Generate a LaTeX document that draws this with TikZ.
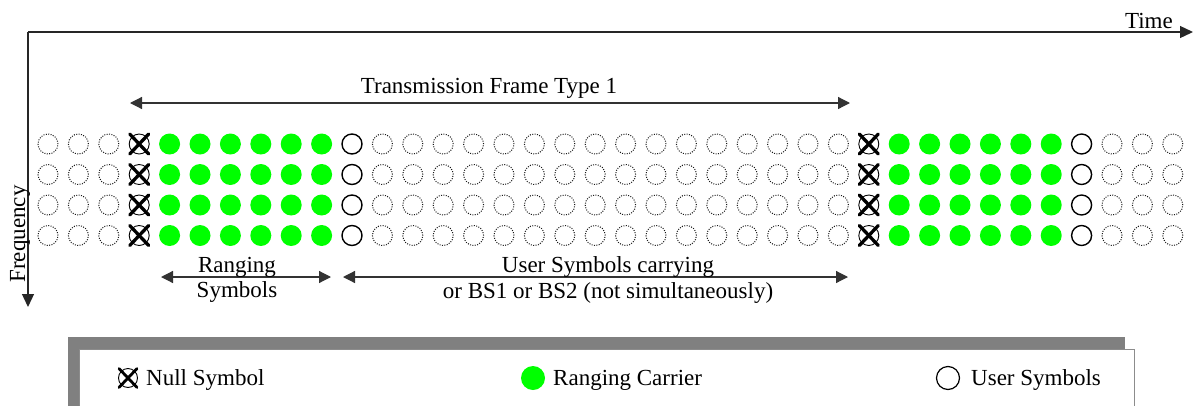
\documentclass[tikz,border=0pt]{standalone}
\usepackage{fontspec}
\setmainfont{Liberation Serif}
\usetikzlibrary{arrows.meta,calc}
\definecolor{rgreen}{RGB}{0,255,0}
\begin{document}
\begin{tikzpicture}[x=1pt,y=-1pt,
  txt/.style={inner sep=0pt, font=\fontsize{23}{25.5}\selectfont},
  sym/.style={circle, minimum size=20pt, inner sep=0pt},
  dotsym/.style={sym, draw=black!90, dash pattern=on 1pt off 1.4pt, line width=1pt},
  usersym/.style={sym, draw=black, line width=1.4pt},
  rangesym/.style={sym, fill=rgreen, minimum size=21pt},
  nullsym/.style={sym, draw=black, line width=0.9pt},
  xline/.style={line width=3.3pt, line cap=round},
  axis/.style={draw=black!85, line width=1.3pt},
  dimarrow/.style={draw=black!80, line width=1.2pt, {Triangle[length=12pt,width=12pt]}-{Triangle[length=12pt,width=12pt]}},
]
\useasboundingbox (0,0) rectangle (1195,405);

% axes
\coordinate (origin) at (28,32);
\coordinate (timeend) at (1193,32);
\coordinate (freqend) at (28,307);
\draw[axis, -{Triangle[length=13pt,width=12pt]}] (origin) -- (timeend);
\draw[axis, -{Triangle[length=13pt,width=12pt]}] (origin) -- (freqend);
\node[txt, anchor=base east] (time) at (1173,28) {Time};
\node[txt, rotate=90, anchor=base] (freq) at (25,234) {Frequency};

% symbol grid
\foreach \r in {0,...,3} {
  \foreach \i in {0,1,2} {
    \node[dotsym] (s-\r-\i) at ({48+30.4*\i},{144+30.5*\r}) {};
  }
  \foreach \i in {11,...,26} {
    \node[dotsym] (s-\r-\i) at ({48+30.4*\i},{144+30.5*\r}) {};
  }
  \foreach \i in {35,36,37} {
    \node[dotsym] (s-\r-\i) at ({48+30.4*\i},{144+30.5*\r}) {};
  }
  \foreach \i in {4,...,9} {
    \node[rangesym] (s-\r-\i) at ({48+30.4*\i},{144+30.5*\r}) {};
  }
  \foreach \i in {28,...,33} {
    \node[rangesym] (s-\r-\i) at ({48+30.4*\i},{144+30.5*\r}) {};
  }
  \foreach \i in {10,34} {
    \node[usersym] (s-\r-\i) at ({48+30.4*\i},{144+30.5*\r}) {};
  }
  \foreach \i in {3,27} {
    \node[nullsym] (s-\r-\i) at ({48+30.4*\i},{144+30.5*\r}) {};
    \draw[xline] ([shift={(-9.5,-10)}]s-\r-\i.center) -- ([shift={(9.5,10)}]s-\r-\i.center);
    \draw[xline] ([shift={(-9.5,10)}]s-\r-\i.center) -- ([shift={(9.5,-10)}]s-\r-\i.center);
  }
}

% dimension arrows
\coordinate (tfL) at (130,103);
\coordinate (tfR) at (850,103);
\draw[dimarrow] (tfL) -- (tfR);
\node[txt, anchor=base] (tftext) at (489,93) {Transmission Frame Type 1};

\coordinate (rgL) at (161,277);
\coordinate (rgR) at (331,277);
\draw[dimarrow] (rgL) -- (rgR);
\node[txt, align=center] (rgtext) at (237,280) {Ranging\\Symbols};

\coordinate (usL) at (343,277);
\coordinate (usR) at (848,277);
\draw[dimarrow] (usL) -- (usR);
\node[txt, align=center] (ustext) at (608,280) {User Symbols carrying\\or BS1 or BS2 (not simultaneously)};

% legend
\fill[black!50] (68,337) rectangle (1125,420);
\draw[fill=white, draw=black!45, line width=0.8pt] (79,349) rectangle (1134,420);

\node[nullsym, minimum size=19pt] (lnull) at (128,378) {};
\draw[xline, line width=2.8pt] ([shift={(-9,-9.5)}]lnull.center) -- ([shift={(9,9.5)}]lnull.center);
\draw[xline, line width=2.8pt] ([shift={(-9,9.5)}]lnull.center) -- ([shift={(9,-9.5)}]lnull.center);
\node[txt, anchor=base west] (lnulltext) at (146,385) {Null Symbol};

\node[rangesym, minimum size=24pt] (lrange) at (533,378) {};
\node[txt, anchor=base west] (lrangetext) at (553,385) {Ranging Carrier};

\node[usersym, minimum size=23pt, line width=1.2pt] (luser) at (948,378) {};
\node[txt, anchor=base west] (lusertext) at (971,385) {User Symbols};
\end{tikzpicture}
\end{document}
